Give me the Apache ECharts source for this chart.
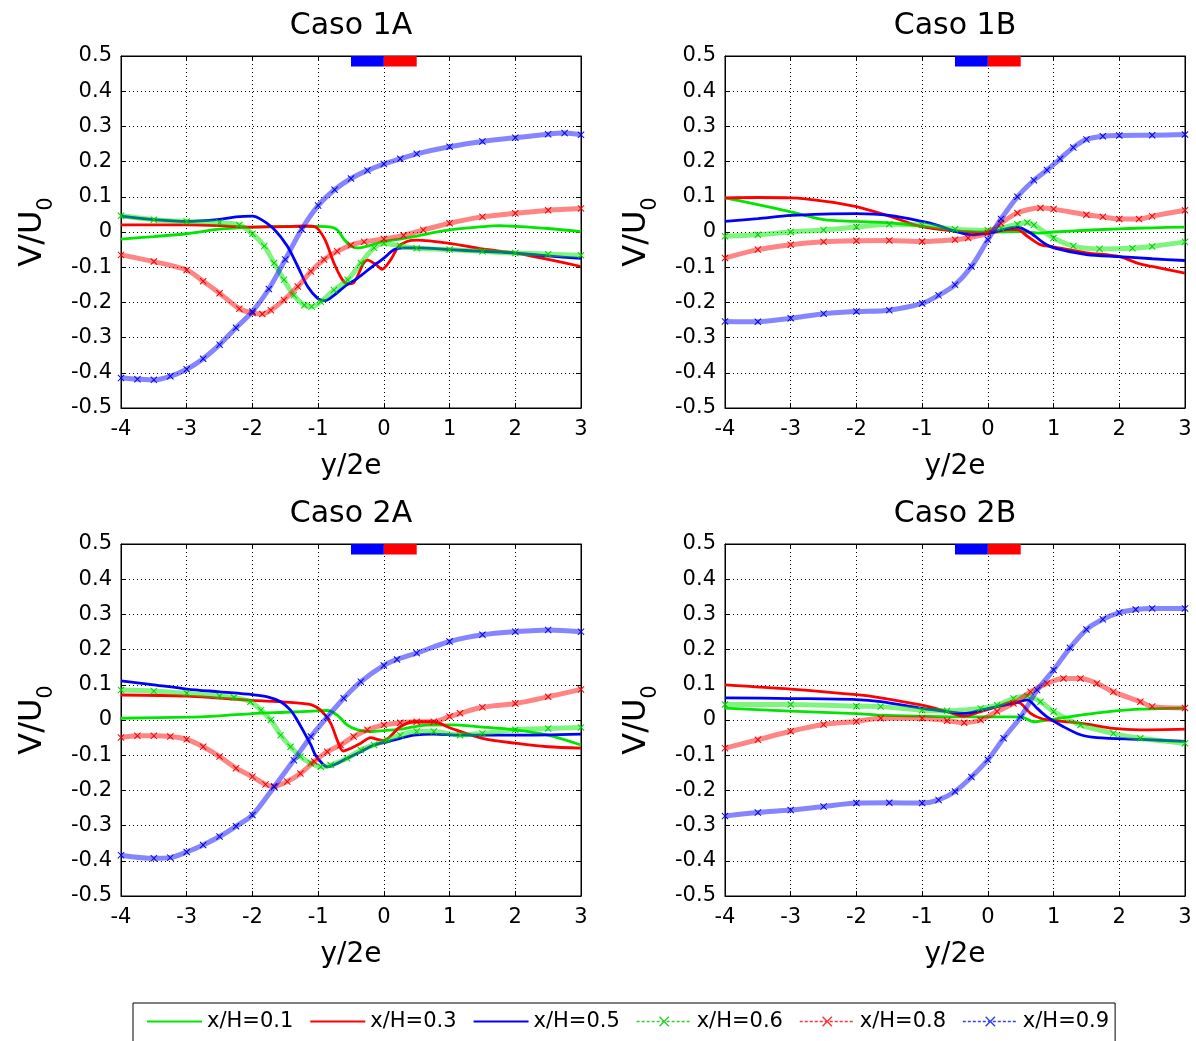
<!DOCTYPE html>
<html>
<head>
<meta charset="utf-8">
<script src="https://cdn.jsdelivr.net/npm/echarts@6/dist/echarts.min.js"></script>
<style>
html,body{margin:0;padding:0;background:#fff;}
#chart{width:1196px;height:1041px;}
</style>
</head>
<body>
<div id="chart"></div>
<script>
// ---------- data ----------
const panelTitles = ['Caso 1A', 'Caso 1B', 'Caso 2A', 'Caso 2B'];
const seriesNames = ['x/H=0.1', 'x/H=0.3', 'x/H=0.5', 'x/H=0.6', 'x/H=0.8', 'x/H=0.9'];
const xRange = [-4, 3];
const yRange = [-0.5, 0.5];
const blueBar = [-0.5, 0];
const redBar = [0, 0.5];
const barY = [0.47, 0.5];

// Caso 1A
const d1A_01 = [[-4,-0.02],[-3.5,-0.013],[-3,-0.005],[-2.5,0.008],[-2,0.014],[-1.5,0.016],[-1,0.016],[-0.8,0.014],[-0.7,0.004],[-0.6,-0.022],[-0.5,-0.04],[-0.4,-0.045],[-0.25,-0.04],[0,-0.027],[0.25,-0.02],[0.5,-0.012],[0.75,-0.002],[1,0.006],[1.5,0.015],[1.75,0.018],[2,0.016],[2.5,0.01],[3,0.001]];
const d1A_03 = [[-4,0.02],[-3,0.02],[-2.5,0.018],[-2,0.014],[-1.5,0.015],[-1.2,0.017],[-1.05,0.015],[-0.9,-0.02],[-0.76,-0.088],[-0.63,-0.136],[-0.55,-0.147],[-0.46,-0.144],[-0.31,-0.089],[-0.25,-0.08],[-0.11,-0.094],[-0.03,-0.106],[0.1,-0.08],[0.22,-0.042],[0.35,-0.027],[0.5,-0.023],[1,-0.032],[1.5,-0.048],[2,-0.06],[2.5,-0.078],[3,-0.098]];
const d1A_05 = [[-4,0.045],[-3.5,0.035],[-3,0.03],[-2.5,0.036],[-2.25,0.043],[-2,0.045],[-1.87,0.036],[-1.67,0.008],[-1.47,-0.04],[-1.31,-0.098],[-1.16,-0.155],[-1.0,-0.19],[-0.9,-0.195],[-0.76,-0.18],[-0.6,-0.155],[-0.4,-0.131],[-0.2,-0.102],[0,-0.074],[0.16,-0.05],[0.3,-0.045],[0.5,-0.045],[1,-0.05],[1.5,-0.055],[2,-0.06],[2.5,-0.068],[3,-0.075]];
const d1A_06 = [[-4,0.046],[-3.5,0.035],[-3,0.03],[-2.5,0.027],[-2.2,0.02],[-2,-0.005],[-1.82,-0.04],[-1.67,-0.088],[-1.52,-0.136],[-1.37,-0.18],[-1.21,-0.208],[-1.1,-0.212],[-0.96,-0.198],[-0.76,-0.165],[-0.55,-0.136],[-0.35,-0.088],[-0.15,-0.045],[0,-0.032],[0.25,-0.04],[0.5,-0.046],[1,-0.05],[1.5,-0.055],[2,-0.06],[2.5,-0.063],[3,-0.066]];
const d1A_08 = [[-4,-0.065],[-3.5,-0.084],[-3,-0.108],[-2.75,-0.14],[-2.5,-0.174],[-2.2,-0.218],[-2,-0.23],[-1.85,-0.233],[-1.72,-0.222],[-1.52,-0.193],[-1.31,-0.155],[-1.11,-0.112],[-0.91,-0.078],[-0.71,-0.055],[-0.5,-0.037],[-0.3,-0.028],[0,-0.02],[0.3,-0.01],[0.6,0.006],[1,0.025],[1.5,0.043],[2,0.053],[2.5,0.062],[3,0.067]];
const d1A_09 = [[-4,-0.415],[-3.75,-0.418],[-3.5,-0.42],[-3.25,-0.41],[-3,-0.39],[-2.75,-0.36],[-2.5,-0.32],[-2.25,-0.272],[-2,-0.226],[-1.75,-0.162],[-1.5,-0.078],[-1.25,0.008],[-1,0.075],[-0.75,0.12],[-0.5,0.152],[-0.25,0.175],[0,0.193],[0.25,0.208],[0.5,0.222],[1,0.242],[1.5,0.257],[2,0.268],[2.5,0.278],[2.75,0.281],[3,0.276]];

// Caso 1B
const d1B_01 = [[-4,0.097],[-3.5,0.078],[-3,0.057],[-2.5,0.035],[-2,0.03],[-1.5,0.026],[-1,0.016],[-0.5,0.003],[0,0.0],[0.5,0.001],[0.8,-0.003],[1,0.0],[1.5,0.005],[2,0.009],[2.5,0.012],[3,0.014]];
const d1B_03 = [[-4,0.097],[-3.5,0.098],[-3,0.097],[-2.5,0.088],[-2,0.072],[-1.5,0.045],[-1,0.015],[-0.5,0.003],[0,-0.003],[0.3,0.007],[0.45,0.007],[0.6,-0.012],[0.8,-0.036],[1,-0.042],[1.5,-0.059],[2,-0.07],[2.3,-0.09],[2.5,-0.098],[3,-0.117]];
const d1B_05 = [[-4,0.03],[-3.5,0.038],[-3,0.047],[-2.5,0.051],[-2,0.052],[-1.5,0.047],[-1,0.03],[-0.75,0.018],[-0.5,0.002],[-0.25,-0.008],[0,-0.003],[0.45,0.014],[0.65,-0.003],[0.85,-0.031],[1,-0.045],[1.5,-0.064],[2,-0.07],[2.5,-0.076],[3,-0.081]];
const d1B_06 = [[-4,-0.012],[-3.5,-0.008],[-3,0.0],[-2.5,0.006],[-2,0.014],[-1.5,0.022],[-1,0.02],[-0.5,0.008],[0,0.005],[0.2,0.011],[0.45,0.022],[0.6,0.027],[0.7,0.02],[1,-0.017],[1.3,-0.04],[1.7,-0.048],[2.2,-0.046],[2.5,-0.041],[3,-0.028]];
const d1B_08 = [[-4,-0.074],[-3.5,-0.05],[-3,-0.036],[-2.5,-0.028],[-2,-0.025],[-1.5,-0.024],[-1,-0.027],[-0.5,-0.022],[-0.3,-0.017],[0,-0.003],[0.2,0.025],[0.45,0.054],[0.8,0.068],[1,0.065],[1.5,0.049],[1.75,0.043],[2,0.037],[2.3,0.037],[2.5,0.045],[3,0.062]];
const d1B_09 = [[-4,-0.254],[-3.5,-0.255],[-3,-0.245],[-2.5,-0.232],[-2,-0.226],[-1.5,-0.222],[-1,-0.203],[-0.75,-0.18],[-0.5,-0.15],[-0.25,-0.098],[0,-0.022],[0.2,0.037],[0.45,0.1],[0.7,0.147],[0.9,0.176],[1.1,0.208],[1.3,0.24],[1.5,0.263],[1.75,0.272],[2,0.274],[2.5,0.275],[3,0.277]];

// Caso 2A
const d2A_01 = [[-4,0.005],[-3,0.008],[-2.5,0.012],[-2,0.018],[-1.5,0.022],[-1,0.026],[-0.86,0.027],[-0.71,0.014],[-0.56,-0.014],[-0.4,-0.028],[-0.2,-0.033],[0,-0.03],[0.3,-0.025],[0.6,-0.015],[1,-0.014],[1.5,-0.02],[2,-0.028],[2.5,-0.043],[3,-0.071]];
const d2A_03 = [[-4,0.071],[-3,0.068],[-2.5,0.062],[-2,0.056],[-1.5,0.051],[-1.25,0.047],[-1.1,0.043],[-0.96,0.028],[-0.81,-0.009],[-0.71,-0.057],[-0.62,-0.088],[-0.5,-0.08],[-0.35,-0.066],[-0.2,-0.05],[-0.1,-0.055],[0,-0.058],[0.25,-0.019],[0.46,-0.005],[0.76,-0.005],[1,-0.022],[1.5,-0.052],[2,-0.066],[2.5,-0.076],[3,-0.08]];
const d2A_05 = [[-4,0.111],[-3.5,0.1],[-3,0.088],[-2.5,0.08],[-2,0.072],[-1.77,0.066],[-1.57,0.052],[-1.42,0.028],[-1.32,0.0],[-1.22,-0.033],[-1.11,-0.071],[-1.04,-0.1],[-0.94,-0.123],[-0.86,-0.133],[-0.76,-0.128],[-0.56,-0.109],[-0.35,-0.09],[-0.15,-0.071],[0.05,-0.062],[0.25,-0.052],[0.46,-0.043],[0.76,-0.04],[1.16,-0.043],[2,-0.043],[3,-0.04]];
const d2A_06 = [[-4,0.085],[-3.5,0.082],[-3,0.076],[-2.5,0.068],[-2.28,0.064],[-2.03,0.052],[-1.87,0.028],[-1.72,0.0],[-1.57,-0.043],[-1.42,-0.076],[-1.27,-0.104],[-1.11,-0.123],[-0.96,-0.133],[-0.81,-0.128],[-0.56,-0.109],[-0.35,-0.085],[-0.15,-0.071],[0.05,-0.057],[0.25,-0.043],[0.5,-0.033],[0.76,-0.033],[1.16,-0.043],[1.5,-0.038],[2,-0.028],[2.5,-0.024],[3,-0.021]];
const d2A_08 = [[-4,-0.05],[-3.75,-0.045],[-3.5,-0.045],[-3.25,-0.047],[-3,-0.055],[-2.75,-0.076],[-2.5,-0.104],[-2.25,-0.137],[-2,-0.161],[-1.8,-0.183],[-1.67,-0.188],[-1.47,-0.175],[-1.27,-0.152],[-1.06,-0.118],[-0.86,-0.09],[-0.66,-0.071],[-0.46,-0.047],[-0.25,-0.028],[0,-0.014],[0.25,-0.008],[0.5,-0.005],[0.76,-0.005],[1,0.01],[1.16,0.019],[1.5,0.036],[2,0.047],[2.5,0.066],[3,0.087]];
const d2A_09 = [[-4,-0.384],[-3.5,-0.393],[-3.25,-0.391],[-3,-0.375],[-2.75,-0.355],[-2.5,-0.331],[-2.25,-0.302],[-2,-0.27],[-1.67,-0.19],[-1.37,-0.114],[-1.11,-0.047],[-0.86,0.009],[-0.61,0.062],[-0.35,0.109],[0,0.155],[0.2,0.172],[0.5,0.19],[1,0.223],[1.5,0.242],[2,0.251],[2.5,0.256],[3,0.251]];

// Caso 2B
const d2B_01 = [[-4,0.034],[-3,0.025],[-2,0.018],[-1.63,0.014],[-1,0.011],[-0.36,0.009],[0.14,0.009],[0.5,0.009],[0.7,-0.005],[0.9,0.0],[1.41,0.014],[1.91,0.025],[2.32,0.031],[3,0.034]];
const d2B_03 = [[-4,0.1],[-3,0.088],[-2,0.072],[-1.63,0.063],[-1,0.042],[-0.62,0.024],[-0.36,0.011],[-0.11,0.024],[0.14,0.038],[0.39,0.052],[0.5,0.047],[0.65,0.019],[0.8,0.005],[1,-0.002],[1.41,-0.009],[1.91,-0.024],[2.32,-0.028],[3,-0.026]];
const d2B_05 = [[-4,0.063],[-3,0.061],[-2,0.058],[-1.63,0.052],[-1,0.033],[-0.62,0.024],[-0.36,0.019],[-0.11,0.028],[0.14,0.038],[0.39,0.047],[0.6,0.057],[0.75,0.033],[0.9,0.009],[1.15,-0.019],[1.41,-0.042],[1.66,-0.05],[2.32,-0.055],[3,-0.061]];
const d2B_06 = [[-4,0.044],[-3,0.044],[-2,0.039],[-1.63,0.038],[-1,0.028],[-0.62,0.026],[-0.11,0.033],[0.14,0.042],[0.39,0.061],[0.6,0.068],[0.8,0.052],[1,0.024],[1.41,-0.014],[1.91,-0.038],[2.32,-0.052],[3,-0.066]];
const d2B_08 = [[-4,-0.08],[-3.5,-0.056],[-3,-0.032],[-2.5,-0.013],[-2,-0.004],[-1.63,0.005],[-1,0.005],[-0.62,-0.002],[-0.36,-0.008],[-0.11,0.0],[0.14,0.024],[0.39,0.047],[0.65,0.08],[0.9,0.104],[1.15,0.118],[1.41,0.118],[1.66,0.104],[1.91,0.08],[2.32,0.052],[2.5,0.038],[3,0.034]];
const d2B_09 = [[-4,-0.273],[-3.5,-0.263],[-3,-0.256],[-2.5,-0.246],[-2,-0.236],[-1.5,-0.235],[-1,-0.236],[-0.75,-0.227],[-0.5,-0.203],[-0.25,-0.162],[0,-0.113],[0.24,-0.052],[0.5,0.009],[0.75,0.085],[1,0.142],[1.25,0.205],[1.5,0.257],[1.75,0.286],[2,0.305],[2.25,0.314],[2.5,0.317],[3,0.317]];

const panelData = [
  [d1A_01, d1A_03, d1A_05, d1A_06, d1A_08, d1A_09],
  [d1B_01, d1B_03, d1B_05, d1B_06, d1B_08, d1B_09],
  [d2A_01, d2A_03, d2A_05, d2A_06, d2A_08, d2A_09],
  [d2B_01, d2B_03, d2B_05, d2B_06, d2B_08, d2B_09]
];

// ---------- styling ----------
const FONT = 'DejaVu Sans';
const solidColors = ['#00e600', '#ff0000', '#0000ff'];
const markColors = ['#00d000', '#ee0000', '#0000ee'];
const legendMarkColors = ['#33cc33', '#ff3333', '#3344ee'];
const bandColors = ['rgba(0,235,0,0.5)', 'rgba(255,0,0,0.48)', 'rgba(0,0,255,0.48)'];
const X_SYMBOL = 'path://M0,1L1,0L5,4L9,0L10,1L6,5L10,9L9,10L5,6L1,10L0,9L4,5Z';

const gridRects = [
  {left: 121, top: 56, width: 460, height: 352},
  {left: 725, top: 56, width: 460, height: 352},
  {left: 121, top: 544, width: 460, height: 352},
  {left: 725, top: 544, width: 460, height: 352}
];

const grids = [], xAxes = [], yAxes = [], series = [], titles = [];

gridRects.forEach((g, i) => {
  grids.push(Object.assign({show: true, borderColor: '#000', borderWidth: 1, backgroundColor: '#fff', containLabel: false}, g));
  titles.push({
    text: panelTitles[i], left: g.left + g.width / 2, top: g.top - 45, textAlign: 'center', padding: 0,
    textStyle: {fontFamily: FONT, fontSize: 30, fontWeight: 'normal', color: '#000'}
  });
  xAxes.push({
    type: 'value', gridIndex: i, min: xRange[0], max: xRange[1], interval: 1, position: 'bottom',
    name: 'y/2e', nameLocation: 'middle', nameGap: 45,
    nameTextStyle: {fontFamily: FONT, fontSize: 28, color: '#000'},
    axisLine: {show: true, onZero: false, lineStyle: {color: '#000', width: 1}},
    axisTick: {show: true, inside: true, length: 5, lineStyle: {color: '#000'}},
    axisLabel: {fontFamily: FONT, fontSize: 21, color: '#000', margin: 11},
    splitLine: {show: true, lineStyle: {color: '#000', width: 1, type: [1, 3]}}
  });
  xAxes.push({
    type: 'value', gridIndex: i, min: xRange[0], max: xRange[1], interval: 1, position: 'top',
    axisLine: {show: true, onZero: false, lineStyle: {color: '#000', width: 1}},
    axisTick: {show: true, inside: true, length: 5, lineStyle: {color: '#000'}},
    axisLabel: {show: false}, splitLine: {show: false}
  });
  yAxes.push({
    type: 'value', gridIndex: i, min: yRange[0], max: yRange[1], interval: 0.1, position: 'left',
    name: '{a|V/U}{b|0}', nameLocation: 'middle', nameGap: 64, nameRotate: 90,
    nameTextStyle: {
      color: '#000',
      rich: {
        a: {fontFamily: FONT, fontSize: 32, color: '#000', padding: [0, 0, 8, 0], verticalAlign: 'bottom'},
        b: {fontFamily: FONT, fontSize: 21, color: '#000', verticalAlign: 'bottom'}
      }
    },
    axisLine: {show: true, onZero: false, lineStyle: {color: '#000', width: 1}},
    axisTick: {show: true, inside: true, length: 5, lineStyle: {color: '#000'}},
    axisLabel: {fontFamily: FONT, fontSize: 21, color: '#000', margin: 9,
      formatter: v => String(Math.round(v * 10) / 10)},
    splitLine: {show: true, lineStyle: {color: '#000', width: 1, type: [1, 3]}}
  });
  yAxes.push({
    type: 'value', gridIndex: i, min: yRange[0], max: yRange[1], interval: 0.1, position: 'right',
    axisLine: {show: true, onZero: false, lineStyle: {color: '#000', width: 1}},
    axisTick: {show: true, inside: true, length: 5, lineStyle: {color: '#000'}},
    axisLabel: {show: false}, splitLine: {show: false}
  });

  panelData[i].forEach((data, k) => {
    const isMarker = k >= 3;
    const c = k % 3;
    const s = {
      type: 'line', name: seriesNames[k], xAxisIndex: 2 * i, yAxisIndex: 2 * i,
      data: data, smooth: 0.3, animation: false, silent: true, clip: true,
      z: 2 + k
    };
    if (isMarker) {
      s.symbol = X_SYMBOL; s.symbolSize = 7; s.showSymbol = true; s.showAllSymbol = true;
      s.itemStyle = {color: markColors[c]};
      s.lineStyle = {color: bandColors[c], width: 5};
    } else {
      s.symbol = 'none'; s.showSymbol = false;
      s.itemStyle = {color: solidColors[c]};
      s.lineStyle = {color: solidColors[c], width: 2.8};
    }
    if (k === 0) {
      s.markArea = {
        silent: true, z: 10,
        data: [
          [{coord: [blueBar[0], barY[1]], itemStyle: {color: '#0000ff', opacity: 1}}, {coord: [blueBar[1], barY[0]]}],
          [{coord: [redBar[0], barY[1]], itemStyle: {color: '#ff0000', opacity: 1}}, {coord: [redBar[1], barY[0]]}]
        ]
      };
    }
    series.push(s);
  });
});

const legendData = seriesNames.map((n, k) => {
  const c = k % 3;
  if (k >= 3) {
    return {name: n, itemStyle: {color: legendMarkColors[c], opacity: 1},
      lineStyle: {color: legendMarkColors[c], width: 1.6, type: [3, 2], opacity: 1}};
  }
  return {name: n, itemStyle: {color: solidColors[c], opacity: 0},
    lineStyle: {color: solidColors[c], width: 2, opacity: 1}};
});

const option = {
  backgroundColor: '#fff',
  animation: false,
  title: titles,
  grid: grids,
  xAxis: xAxes,
  yAxis: yAxes,
  legend: {
    data: legendData, left: 133, top: 1003, orient: 'horizontal',
    itemWidth: 55, itemHeight: 13, itemGap: 16, padding: [8, 6, 24, 13],
    borderColor: '#000', borderWidth: 1, backgroundColor: '#fff',
    textStyle: {fontFamily: FONT, fontSize: 21, color: '#000'}
  },
  series: series
};

const chart = echarts.init(document.getElementById('chart'), null, {renderer: 'canvas'});
chart.setOption(option);
</script>
</body>
</html>
